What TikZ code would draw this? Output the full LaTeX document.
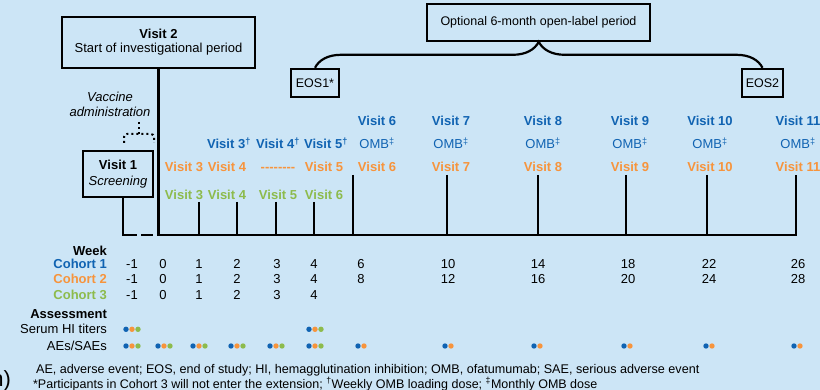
\documentclass[tikz,border=0pt]{standalone}
\usepackage{fontspec}
\setmainfont{Liberation Sans}
\usetikzlibrary{decorations.pathreplacing}
\definecolor{bgblue}{RGB}{204,229,246}
\definecolor{cohA}{RGB}{16,99,178}
\definecolor{cohB}{RGB}{247,148,60}
\definecolor{cohC}{RGB}{141,187,76}
\newcommand{\fs}{\fontsize{13}{15}\selectfont}
\newcommand{\fsb}{\fontsize{13}{15}\selectfont\bfseries}

\begin{document}
\begin{tikzpicture}[x = 1pt, y = -1pt, line width = 2.2pt,
		box/.style = {draw, line width = 2.4pt, fill = bgblue, align = center, inner sep = 0pt},
		lab/.style = {anchor = base, font = \fs, inner sep = 0pt},
		blab/.style = {lab, font = \fsb},
		dots/.style = {line width = 2pt, dash pattern = on 2pt off 3pt}]
		\fill [bgblue] (0, 0) rectangle (820, 390);
		\useasboundingbox (0, 0) rectangle (820, 390);
		% boxes on top
		\node[box, minimum width = 193, minimum height = 51, font = \fontsize{13}{14.2}\selectfont] (v2) at (158.5, 42.5) {\textbf{Visit 2}\\Start of investigational period};
		\node[box, minimum width = 70, minimum height = 46, font = \fontsize{13}{16}\selectfont] (v1) at (118, 174) {\textbf{Visit 1}\\\textit{Screening}};
		\node[box, minimum width = 223, minimum height = 37, font = \fontsize{12.5}{14}\selectfont] (opt) at (538.5, 22.5) {Optional 6-month open-label period};
		\node[box, minimum width = 48, minimum height = 28, font = \fontsize{12.5}{14}\selectfont] (eos1) at (315, 83) {EOS1*};
		\node[box, minimum width = 41, minimum height = 28, font = \fontsize{12.5}{14}\selectfont] (eos2) at (762.5, 83) {EOS2};
		\node[align = center, inner sep = 0pt, font = \fontsize{13}{15}\selectfont\itshape] (vac) at (110, 104.5) {Vaccine\\administration};
		\draw [decorate, decoration = {brace, amplitude = 26pt}] (eos1.north) -- (eos2.north);
		% dotted bracket under the vaccine text
		\coordinate (vtip) at (139, 122);
		\coordinate (vmid) at (139, 134);
		\draw [dots, rounded corners = 3pt] (124, 143) -- (124, 134) -- (154, 134) -- (154, 143);
		\draw [dots] (vmid) -- (vtip);
		% time line
		\coordinate (v1foot) at (123, 197);
		\coordinate (d1) at (137, 235);
		\coordinate (d2) at (141, 235);
		\coordinate (d3) at (153, 235);
		\coordinate (t796) at (796, 175);
		\coordinate (b796) at (796, 235);
		\draw (v1foot) |- (d1);
		\draw (d2) -- (d3);
		\draw (v2.south) |- (b796) -- (t796);
		\foreach \x/\top in {199/202, 237/202, 276/202, 314/202, 353/175, 447/175, 538/175, 626/175, 707/175}{
			\coordinate (t\x) at (\x, \top);
			\coordinate (b\x) at (\x, 235);
			\draw (t\x) -- (b\x);}
		% visits
		\foreach \x/\n in {377/6, 451/7, 543/8, 630/9, 710/10, 798/11}{
			\node[blab, cohA] (bv\n) at (\x, 125.5) {Visit \n};
			\node[lab, cohA] (om\n) at (\x, 148.5) {OMB\textsuperscript{‡}};
			\node[blab, cohB] (ov\n) at (\x, 171.5) {Visit \n};}
		\foreach \x/\n in {229/3, 278/4, 326/5}{
			\node[blab, cohA] (bv\n) at (\x, 148.5) {Visit \n\textsuperscript{†}};}
		\foreach \x/\n in {184/3, 227/4, 324/5}{
			\node[blab, cohB] (ov\n) at (\x, 171.5) {Visit \n};}
		\node[blab, cohB] (odash) at (278, 171.5) {-{}-{}-{}-{}-{}-{}-{}-};
		\foreach \x/\n in {184/3, 227/4, 278/5, 324/6}{
			\node[blab, cohC] (gv\n) at (\x, 199.5) {Visit \n};}
		% week table
		\node[blab, anchor = base east] (week) at (108, 255.7) {Week};
		\node[blab, anchor = base east, cohA] (co1) at (108, 268.7) {Cohort 1};
		\node[blab, anchor = base east, cohB] (co2) at (108, 284) {Cohort 2};
		\node[blab, anchor = base east, cohC] (co3) at (108, 299.3) {Cohort 3};
		\node[blab, anchor = base east] (assess) at (108, 318.3) {Assessment};
		\node[lab, anchor = base east] (serum) at (108, 334) {Serum HI titers};
		\node[lab, anchor = base east] (aes) at (108, 350) {AEs/SAEs};
		\foreach \x/\a/\b in {132/-1/-1, 163/0/0, 199/1/1, 237/2/2, 277/3/3, 314/4/4, 361/6/8, 448/10/12, 538/14/16, 628/18/20, 709/22/24, 798/26/28}{
			\node[lab] (ca\x) at (\x, 268.7) {\a};
			\node[lab] (cb\x) at (\x, 284) {\b};}
		\foreach \x/\c in {132/-1, 163/0, 199/1, 237/2, 277/3, 314/4}{
			\node[lab] (cc\x) at (\x, 299.3) {\c};}
		% assessment dots
		\foreach \x in {132, 315}{
			\foreach \c/\d in {cohA/-6, cohB/0, cohC/6}{
				\fill[\c] (\x + \d, 329.3) circle (2.7);}}
		\foreach \x in {132, 164, 199, 237, 276, 315}{
			\foreach \c/\d in {cohA/-6, cohB/0, cohC/6}{
				\fill[\c] (\x + \d, 346) circle (2.7);}}
		\foreach \x in {361, 448, 537, 627, 709, 797}{
			\foreach \c/\d in {cohA/-3, cohB/3}{
				\fill[\c] (\x + \d, 346) circle (2.7);}}
		% notes
		\node[lab, anchor = base west, font = \fontsize{12.6}{14}\selectfont] (note1) at (35, 373.3) {AE, adverse event; EOS, end of study; HI, hemagglutination inhibition; OMB, ofatumumab; SAE, serious adverse event};
		\node[lab, anchor = base west, font = \fontsize{12.5}{14}\selectfont] (note2) at (32, 388.3) {*Participants in Cohort 3 will not enter the extension; \textsuperscript{†}Weekly OMB loading dose; \textsuperscript{‡}Monthly OMB dose};
		\node[lab, anchor = base east, font = \fontsize{22}{24}\selectfont] (frag) at (12, 386.7) {n)};
		\end{tikzpicture}
\end{document}
